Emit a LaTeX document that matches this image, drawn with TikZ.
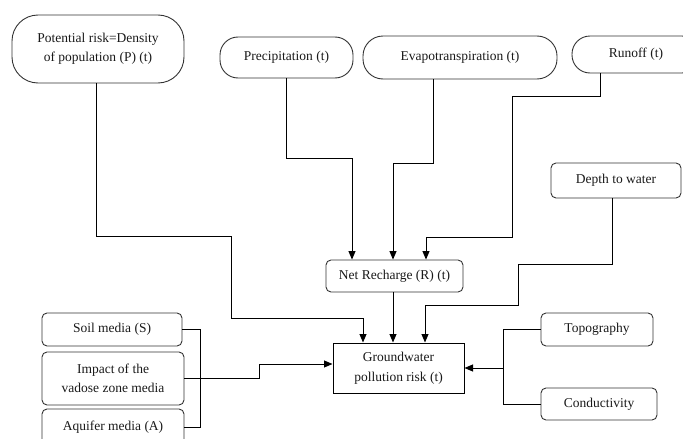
\documentclass[tikz,border=0pt]{standalone}
\usepackage{fontspec}
\setmainfont{Liberation Serif}
\usetikzlibrary{arrows.meta}
\begin{document}
\begin{tikzpicture}[x=1pt,y=-1pt,
  every node/.style={font=\fontsize{13.5}{19.5}\selectfont, align=center, inner sep=0pt, text=black!90},
  pill/.style={draw=black!80, line width=0.9pt, rounded corners=#1},
  pill/.default=18pt,
  rbox/.style={draw=black!80, line width=0.9pt, rounded corners=5pt},
  sbox/.style={draw=black, line width=1pt},
  conn/.style={line width=1pt, black},
  arr/.style={conn, -{Triangle[length=8.5pt,width=7pt]}}]
\useasboundingbox (0,0) rectangle (683,439);
% top nodes
\node[pill=26pt, minimum width=172pt, minimum height=68pt] (pot) at (98,49) {Potential risk=Density\\of population (P) (t)};
\node[pill, minimum width=133pt, minimum height=41pt] (prec) at (286.5,57.5) {Precipitation (t)};
\node[pill=20pt, minimum width=194pt, minimum height=43pt] (evap) at (460,57.5) {Evapotranspiration (t)};
\node[pill, minimum width=128pt, minimum height=37pt] (run) at (636,54.5) {Runoff (t)};
\node[rbox, minimum width=130pt, minimum height=35pt] (depth) at (616,180.5) {Depth to water};
\node[rbox, minimum width=137pt, minimum height=32pt] (net) at (394.5,276) {Net Recharge (R) (t)};
\node[sbox, minimum width=131pt, minimum height=50pt] (gw) at (398.5,368) {Groundwater\\pollution risk (t)};
\node[rbox, minimum width=112pt, minimum height=33pt] (topo) at (597,329.5) {Topography};
\node[rbox, minimum width=116pt, minimum height=32pt] (cond) at (599,404) {Conductivity};
\node[rbox, minimum width=140pt, minimum height=33pt] (soil) at (112,329.5) {Soil media (S)};
\node[rbox, minimum width=142pt, minimum height=53pt] (imp) at (113,378.5) {Impact of the\\vadose zone media};
\node[rbox, minimum width=142pt, minimum height=36pt] (aq) at (113,427) {Aquifer media (A)};
% connectors
\draw[arr] ([xshift=-2pt]pot.south) |- (231,236) |- (363,318) -- ([xshift=-35.5pt]gw.north);
\draw[arr] (prec.south) |- (352,158) -- ([xshift=-42.5pt]net.north);
\draw[arr] ([xshift=-27pt]evap.south) |- (393,163) -- ([xshift=-1.5pt]net.north);
\draw[arr] ([xshift=-36pt]run.south) |- (512,96) |- (426,237) -- ([xshift=31.5pt]net.north);
\draw[arr] ([xshift=-1.5pt]net.south) -- ([xshift=-5.5pt]gw.north);
\draw[arr] ([xshift=-4pt]depth.south) |- (518,264) |- (425,305) -- ([xshift=26.5pt]gw.north);
\draw[conn] (topo.west) -| (503,404) -- (cond.west);
\draw[arr] (503,368) -- (gw.east);
\draw[conn] (soil.east) -| (200,427) -- (aq.east);
\draw[arr] (imp.east) -- (259,378.5) |- ([yshift=4pt]gw.west);
\end{tikzpicture}
\end{document}
